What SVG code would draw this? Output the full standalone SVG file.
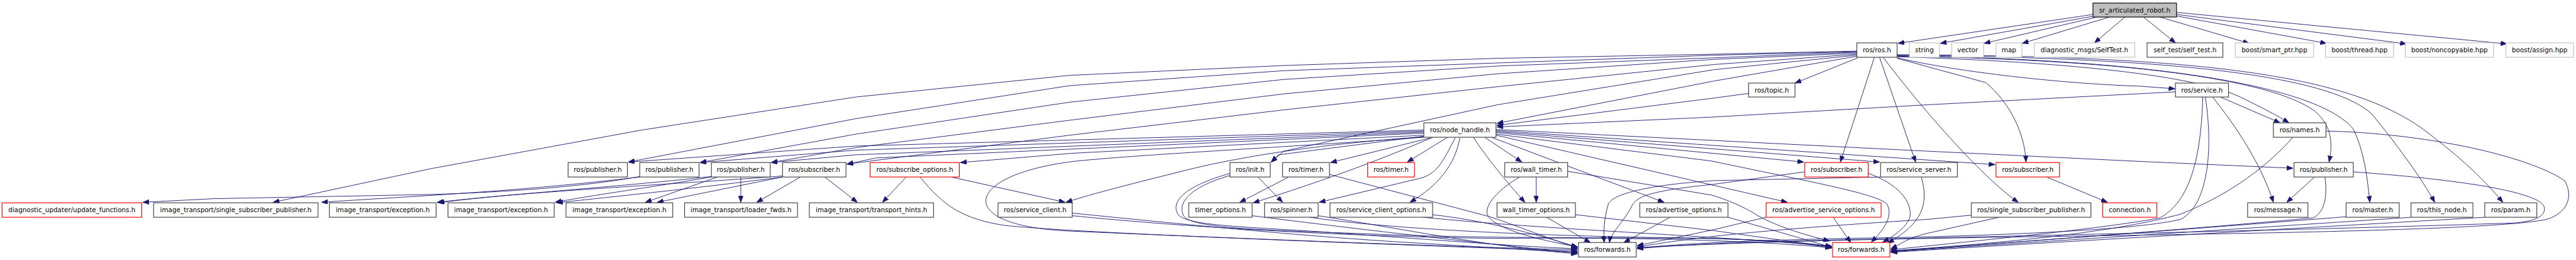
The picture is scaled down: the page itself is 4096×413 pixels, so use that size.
<svg xmlns="http://www.w3.org/2000/svg" width="4096" height="413" viewBox="0 0 4096 413">
<style>
.e{fill:none;stroke:#191970;stroke-width:1.1;marker-end:url(#ah)}
.n rect{fill:#fff;stroke:#404040;stroke-width:1.4}
.g rect{fill:#fff;stroke:#c0c0c0;stroke-width:1.4}
.r rect{fill:#fff;stroke:#ff0000;stroke-width:1.4}
.root rect{fill:#bfbfbf;stroke:#000;stroke-width:1.4}
text{font-family:'DejaVu Sans','Liberation Sans',sans-serif;font-size:12.65px;text-anchor:middle;fill:#000}
</style>
<defs>
<marker id="ah" markerWidth="14" markerHeight="10" refX="12" refY="4.5" orient="auto" markerUnits="userSpaceOnUse">
<path d="M0,0 L12,4.5 L0,9 z" fill="#191970" stroke="#191970" stroke-width="1"/>
</marker>
</defs>
<rect width="4096" height="413" fill="#fff"/>
<g transform="scale(0.81969)">
<g id="edges">
<path class="e" d="M4060,28 L3682,84"/>
<path class="e" d="M4063,31 L3764,84"/>
<path class="e" d="M4068,33 L3849,84"/>
<path class="e" d="M4092,33 L3923,84"/>
<path class="e" d="M4122,33 L4063,83"/>
<path class="e" d="M4158,33 L4220,83"/>
<path class="e" d="M4190,33 L4363,84"/>
<path class="e" d="M4222,31 L4513,84"/>
<path class="e" d="M4222,28 L4668,85"/>
<path class="e" d="M4222,24 L4863,85"/>
<path class="e" d="M3604,112 L3482,161"/>
<path class="e" d="M3602,109 L3325,157 L2904,239"/>
<path class="e" d="M3680,112 C3800,140 4000,162 4150,167 L4219,172"/>
<path class="e" d="M3680,110 C3950,118 4250,140 4350,190 C4390,210 4420,225 4440,238"/>
<path class="e" d="M3680,109 C4100,115 4400,150 4490,215 C4525,245 4525,280 4518,314"/>
<path class="e" d="M3680,108 C4200,115 4500,170 4565,250 C4585,290 4592,340 4597,392"/>
<path class="e" d="M3680,107 C4250,112 4520,150 4600,220 C4650,280 4700,350 4723,392"/>
<path class="e" d="M3680,106 C4300,108 4560,150 4700,250 C4780,310 4820,350 4855,392"/>
<path class="e" d="M3636,111 L3570,314"/>
<path class="e" d="M3646,111 L3716,314"/>
<path class="e" d="M3653,111 C3720,200 3840,340 3915,392"/>
<path class="e" d="M3680,113 L3852,160 C3900,200 3928,260 3930,314"/>
<path class="e" d="M3602,99 L3325,105 L2905,113 L2490,127 L2075,146 L1660,188 L1245,252 L835,327 L530,392"/>
<path class="e" d="M3602,100 L3325,107 L2905,122 L2490,137 L2075,166 L1660,230 L1245,309 L1219,314"/>
<path class="e" d="M3602,101 L3325,112 L2905,128 L2490,154 L2075,198 L1660,260 L1358,315"/>
<path class="e" d="M3602,103 L3325,115 L2905,143 L2490,182 L2075,233 L1660,286 L1496,315"/>
<path class="e" d="M3602,105 L3325,125 L2905,168 L2490,213 L2075,262 L1643,318"/>
<path class="e" d="M3602,107 L3325,135 L2905,203 L2490,293 L2466,314"/>
<path class="e" d="M2762,252 L1660,283 L1219,314"/>
<path class="e" d="M2762,254 L1660,291 L1358,315"/>
<path class="e" d="M2762,256 L1660,300 L1496,315"/>
<path class="e" d="M2762,258 L1700,306 L1643,318"/>
<path class="e" d="M2762,262 L2080,297 L1863,315"/>
<path class="e" d="M2762,264 L2480,300 L2466,314"/>
<path class="e" d="M2762,265 C2550,280 2400,305 2300,330 C2200,355 2120,375 2068,392"/>
<path class="e" d="M2762,266 C2500,285 2200,300 2080,313 C1950,330 1900,370 1915,400 C1930,430 2000,445 2080,448 C2400,462 2800,478 3060,484"/>
<path class="e" d="M1785,343 C1830,400 1870,425 1950,437 C2100,452 2600,470 3060,487"/>
<path class="e" d="M1845,343 L2066,392"/>
<path class="e" d="M1758,343 L1712,392"/>
<path class="e" d="M2440,343 L2488,392"/>
<path class="e" d="M2386,336 C2300,360 2270,390 2285,415 C2300,440 2450,440 2600,452 C2800,466 2950,478 3060,482"/>
<path class="e" d="M2386,340 C2310,362 2283,392 2296,418 C2310,445 2480,446 2700,455 C2900,462 3100,460 3300,462 C3450,465 3520,472 3553,478"/>
<path class="e" d="M2500,343 L2405,392"/>
<path class="e" d="M2579,338 L2890,420 C2950,440 3010,465 3060,480"/>
<path class="e" d="M2780,266 L2581,315"/>
<path class="e" d="M2808,266 L2730,314"/>
<path class="e" d="M2823,267 C2800,310 2790,335 2757,345 L2559,392"/>
<path class="e" d="M2777,267 C2700,300 2600,340 2431,393"/>
<path class="e" d="M2832,267 C2822,320 2790,360 2735,392"/>
<path class="e" d="M2880,266 L2952,314"/>
<path class="e" d="M2858,266 C2880,300 2920,350 2958,392"/>
<path class="e" d="M2893,266 L3228,392"/>
<path class="e" d="M2902,262 L3467,392"/>
<path class="e" d="M2902,257 L3499,314"/>
<path class="e" d="M2902,255 L3646,314"/>
<path class="e" d="M2902,253 L3870,319"/>
<path class="e" d="M2902,251 L3740,293 L4155,313 L4448,326"/>
<path class="e" d="M2902,260 L3320,312 C3500,350 3640,375 3660,395 C3675,420 3650,450 3630,469"/>
<path class="e" d="M2980,343 L2980,392"/>
<path class="e" d="M2948,343 C2910,365 2880,395 2885,415 C2895,445 3000,468 3060,478"/>
<path class="e" d="M3041,332 L3320,378 C3360,390 3390,405 3410,418 C3450,440 3500,455 3549,467"/>
<path class="e" d="M3000,421 L3085,470"/>
<path class="e" d="M3056,416 L3325,447 L3553,479"/>
<path class="e" d="M3240,421 L3150,470"/>
<path class="e" d="M3352,421 L3553,479"/>
<path class="e" d="M3426,421 L3320,446 L3176,476"/>
<path class="e" d="M3556,421 L3590,470"/>
<path class="e" d="M3501,333 L3325,357 C3200,370 3175,380 3165,400 C3150,430 3125,450 3122,470"/>
<path class="e" d="M3648,343 L3325,350 C3200,358 3130,375 3120,395 C3112,420 3110,450 3112,470"/>
<path class="e" d="M3624,336 C3680,355 3710,390 3705,420 C3700,440 3670,460 3652,469"/>
<path class="e" d="M3727,343 C3740,390 3735,430 3662,471"/>
<path class="e" d="M3970,343 L4088,392"/>
<path class="e" d="M3824,417 L3740,425 C3500,440 3300,456 3176,479"/>
<path class="e" d="M3878,421 L3735,453 C3700,462 3685,474 3668,482"/>
<path class="e" d="M4292,188 C4350,260 4390,330 4410,392"/>
<path class="e" d="M4307,188 L4423,238"/>
<path class="e" d="M4220,178 L3740,203 L3320,227 L2904,246"/>
<path class="e" d="M3392,181 L3325,190 L2904,243"/>
<path class="e" d="M4273,188 C4270,300 4250,390 4190,422 C4100,440 3900,460 3668,484"/>
<path class="e" d="M4278,188 C4295,300 4280,400 4230,425 C4150,445 3900,455 3700,460 C3500,463 3300,468 3176,481"/>
<path class="e" d="M4448,266 C4400,320 4330,375 4230,415 C4100,450 3900,470 3668,486"/>
<path class="e" d="M4512,254 C4700,258 4900,300 4975,350 C4995,385 4975,415 4940,425 C4850,445 4400,452 4000,458 C3700,462 3400,468 3176,480"/>
<path class="e" d="M4490,343 L4436,392"/>
<path class="e" d="M4510,343 C4515,380 4510,410 4488,422 C4300,440 3900,470 3668,487"/>
<path class="e" d="M4565,333 C4800,350 4925,375 4935,400 C4940,418 4920,428 4880,432 C4500,445 4000,455 3700,462 C3500,466 3300,470 3176,482"/>
<path class="e" d="M4551,420 C4300,440 3900,470 3668,487"/>
<path class="e" d="M4677,421 C4400,440 3900,472 3668,488"/>
<path class="e" d="M4820,421 C4500,440 3900,474 3668,489"/>
<path class="e" d="M1241,342 C1100,368 900,375 830,377 L415,385 L277,392"/>
<path class="e" d="M1241,343 C1000,372 800,380 624,392"/>
<path class="e" d="M1380,342 C1200,362 1000,375 848,392"/>
<path class="e" d="M1380,343 C1250,365 1150,378 1077,392"/>
<path class="e" d="M1392,343 L1252,392"/>
<path class="e" d="M1437,343 L1437,392"/>
<path class="e" d="M1518,341 C1300,358 1000,372 850,393"/>
<path class="e" d="M1518,343 C1350,365 1200,380 1080,393"/>
<path class="e" d="M1518,343 L1275,392"/>
<path class="e" d="M1553,343 L1468,392"/>
<path class="e" d="M1600,343 L1663,392"/>
<path class="e" d="M2080,413 C2300,435 2500,455 2700,468 C2900,480 3000,487 3060,489"/>
<path class="e" d="M2080,418 C2300,440 2600,458 2900,462 C3100,460 3350,462 3553,480"/>
<path class="e" d="M2429,418 C2600,440 2900,475 3060,490"/>
<path class="e" d="M2557,418 C2700,440 2900,480 3060,492"/>
<path class="e" d="M2540,421 C2700,445 3000,457 3200,460 C3400,462 3500,470 3553,481"/>
<path class="e" d="M2779,416 C2900,430 3000,460 3060,479"/>
<path class="e" d="M2760,421 C3000,445 3300,455 3553,477"/>
</g>
<g id="n_root" class="root"><rect x="4060" y="6" width="162" height="27"/><text x="4141" y="24">sr_articulated_robot.h</text></g>
<g id="n_ros" class="n"><rect x="3602" y="83" width="78" height="28"/><text x="3641" y="101.5">ros/ros.h</text></g>
<g id="n_string" class="g"><rect x="3704" y="83" width="58" height="28"/><text x="3733" y="101.5">string</text></g>
<g id="n_vector" class="g"><rect x="3786" y="83" width="62" height="28"/><text x="3817" y="101.5">vector</text></g>
<g id="n_map" class="g"><rect x="3872" y="83" width="50" height="28"/><text x="3897" y="101.5">map</text></g>
<g id="n_selftestmsg" class="g"><rect x="3946" y="83" width="195" height="28"/><text x="4043.5" y="101.5">diagnostic_msgs/SelfTest.h</text></g>
<g id="n_selftest" class="n"><rect x="4165" y="83" width="147" height="28"/><text x="4238.5" y="101.5">self_test/self_test.h</text></g>
<g id="n_smartptr" class="g"><rect x="4336" y="83" width="152" height="28"/><text x="4412" y="101.5">boost/smart_ptr.hpp</text></g>
<g id="n_thread" class="g"><rect x="4511" y="83" width="132" height="28"/><text x="4577" y="101.5">boost/thread.hpp</text></g>
<g id="n_noncopyable" class="g"><rect x="4666" y="83" width="171" height="28"/><text x="4751.5" y="101.5">boost/noncopyable.hpp</text></g>
<g id="n_assign" class="g"><rect x="4861" y="83" width="131" height="28"/><text x="4926.5" y="101.5">boost/assign.hpp</text></g>
<g id="n_topic" class="n"><rect x="3392" y="161" width="90" height="27"/><text x="3437" y="179">ros/topic.h</text></g>
<g id="n_service" class="n"><rect x="4220" y="161" width="103" height="27"/><text x="4271.5" y="179">ros/service.h</text></g>
<g id="n_nh" class="n"><rect x="2762" y="238" width="140" height="28"/><text x="2832" y="256.5">ros/node_handle.h</text></g>
<g id="n_names" class="n"><rect x="4410" y="238" width="102" height="28"/><text x="4461" y="256.5">ros/names.h</text></g>
<g id="n_pub1" class="n"><rect x="1102" y="315" width="115" height="28"/><text x="1159.5" y="333.5">ros/publisher.h</text></g>
<g id="n_pub2" class="n"><rect x="1241" y="315" width="115" height="28"/><text x="1298.5" y="333.5">ros/publisher.h</text></g>
<g id="n_pub3" class="n"><rect x="1380" y="315" width="114" height="28"/><text x="1437" y="333.5">ros/publisher.h</text></g>
<g id="n_sub" class="n"><rect x="1518" y="315" width="123" height="28"/><text x="1579.5" y="333.5">ros/subscriber.h</text></g>
<g id="n_subopts" class="r"><rect x="1688" y="315" width="173" height="28"/><text x="1774.5" y="333.5">ros/subscribe_options.h</text></g>
<g id="n_init" class="n"><rect x="2386" y="315" width="78" height="28"/><text x="2425" y="333.5">ros/init.h</text></g>
<g id="n_timer" class="n"><rect x="2488" y="315" width="91" height="28"/><text x="2533.5" y="333.5">ros/timer.h</text></g>
<g id="n_timerr" class="r"><rect x="2653" y="315" width="91" height="28"/><text x="2698.5" y="333.5">ros/timer.h</text></g>
<g id="n_walltimer" class="n"><rect x="2919" y="315" width="122" height="28"/><text x="2980" y="333.5">ros/wall_timer.h</text></g>
<g id="n_subr1" class="r"><rect x="3501" y="315" width="123" height="28"/><text x="3562.5" y="333.5">ros/subscriber.h</text></g>
<g id="n_srvserver" class="n"><rect x="3648" y="315" width="149" height="28"/><text x="3722.5" y="333.5">ros/service_server.h</text></g>
<g id="n_subr2" class="r"><rect x="3872" y="315" width="123" height="28"/><text x="3933.5" y="333.5">ros/subscriber.h</text></g>
<g id="n_pub4" class="n"><rect x="4450" y="315" width="115" height="28"/><text x="4507.5" y="333.5">ros/publisher.h</text></g>
<g id="n_updfn" class="r"><rect x="4" y="393" width="271" height="28"/><text x="139.5" y="411.5">diagnostic_updater/update_functions.h</text></g>
<g id="n_itssp" class="n"><rect x="298" y="393" width="319" height="28"/><text x="457.5" y="411.5">image_transport/single_subscriber_publisher.h</text></g>
<g id="n_exc1" class="n"><rect x="639" y="393" width="207" height="28"/><text x="742.5" y="411.5">image_transport/exception.h</text></g>
<g id="n_exc2" class="n"><rect x="869" y="393" width="206" height="28"/><text x="972" y="411.5">image_transport/exception.h</text></g>
<g id="n_exc3" class="n"><rect x="1098" y="393" width="207" height="28"/><text x="1201.5" y="411.5">image_transport/exception.h</text></g>
<g id="n_loader" class="n"><rect x="1328" y="393" width="219" height="28"/><text x="1437.5" y="411.5">image_transport/loader_fwds.h</text></g>
<g id="n_hints" class="n"><rect x="1570" y="393" width="241" height="28"/><text x="1690.5" y="411.5">image_transport/transport_hints.h</text></g>
<g id="n_svcclient" class="n"><rect x="1936" y="393" width="144" height="28"/><text x="2008" y="411.5">ros/service_client.h</text></g>
<g id="n_timeropts" class="n"><rect x="2306" y="393" width="123" height="28"/><text x="2367.5" y="411.5">timer_options.h</text></g>
<g id="n_spinner" class="n"><rect x="2453" y="393" width="104" height="28"/><text x="2505" y="411.5">ros/spinner.h</text></g>
<g id="n_sco" class="n"><rect x="2580" y="393" width="199" height="28"/><text x="2679.5" y="411.5">ros/service_client_options.h</text></g>
<g id="n_wto" class="n"><rect x="2904" y="393" width="152" height="28"/><text x="2980" y="411.5">wall_timer_options.h</text></g>
<g id="n_ao" class="n"><rect x="3181" y="393" width="171" height="28"/><text x="3266.5" y="411.5">ros/advertise_options.h</text></g>
<g id="n_aso" class="r"><rect x="3426" y="393" width="223" height="28"/><text x="3537.5" y="411.5">ros/advertise_service_options.h</text></g>
<g id="n_ssp" class="n"><rect x="3824" y="393" width="232" height="28"/><text x="3940" y="411.5">ros/single_subscriber_publisher.h</text></g>
<g id="n_connection" class="r"><rect x="4079" y="393" width="105" height="28"/><text x="4131.5" y="411.5">connection.h</text></g>
<g id="n_message" class="n"><rect x="4360" y="393" width="117" height="28"/><text x="4418.5" y="411.5">ros/message.h</text></g>
<g id="n_master" class="n"><rect x="4551" y="393" width="103" height="28"/><text x="4602.5" y="411.5">ros/master.h</text></g>
<g id="n_thisnode" class="n"><rect x="4677" y="393" width="120" height="28"/><text x="4737" y="411.5">ros/this_node.h</text></g>
<g id="n_param" class="n"><rect x="4820" y="393" width="101" height="28"/><text x="4870.5" y="411.5">ros/param.h</text></g>
<g id="n_fwd" class="n"><rect x="3062" y="470" width="112" height="28"/><text x="3118" y="488.5">ros/forwards.h</text></g>
<g id="n_fwdr" class="r"><rect x="3555" y="470" width="111" height="28"/><text x="3610.5" y="488.5">ros/forwards.h</text></g>
</g>
</svg>
